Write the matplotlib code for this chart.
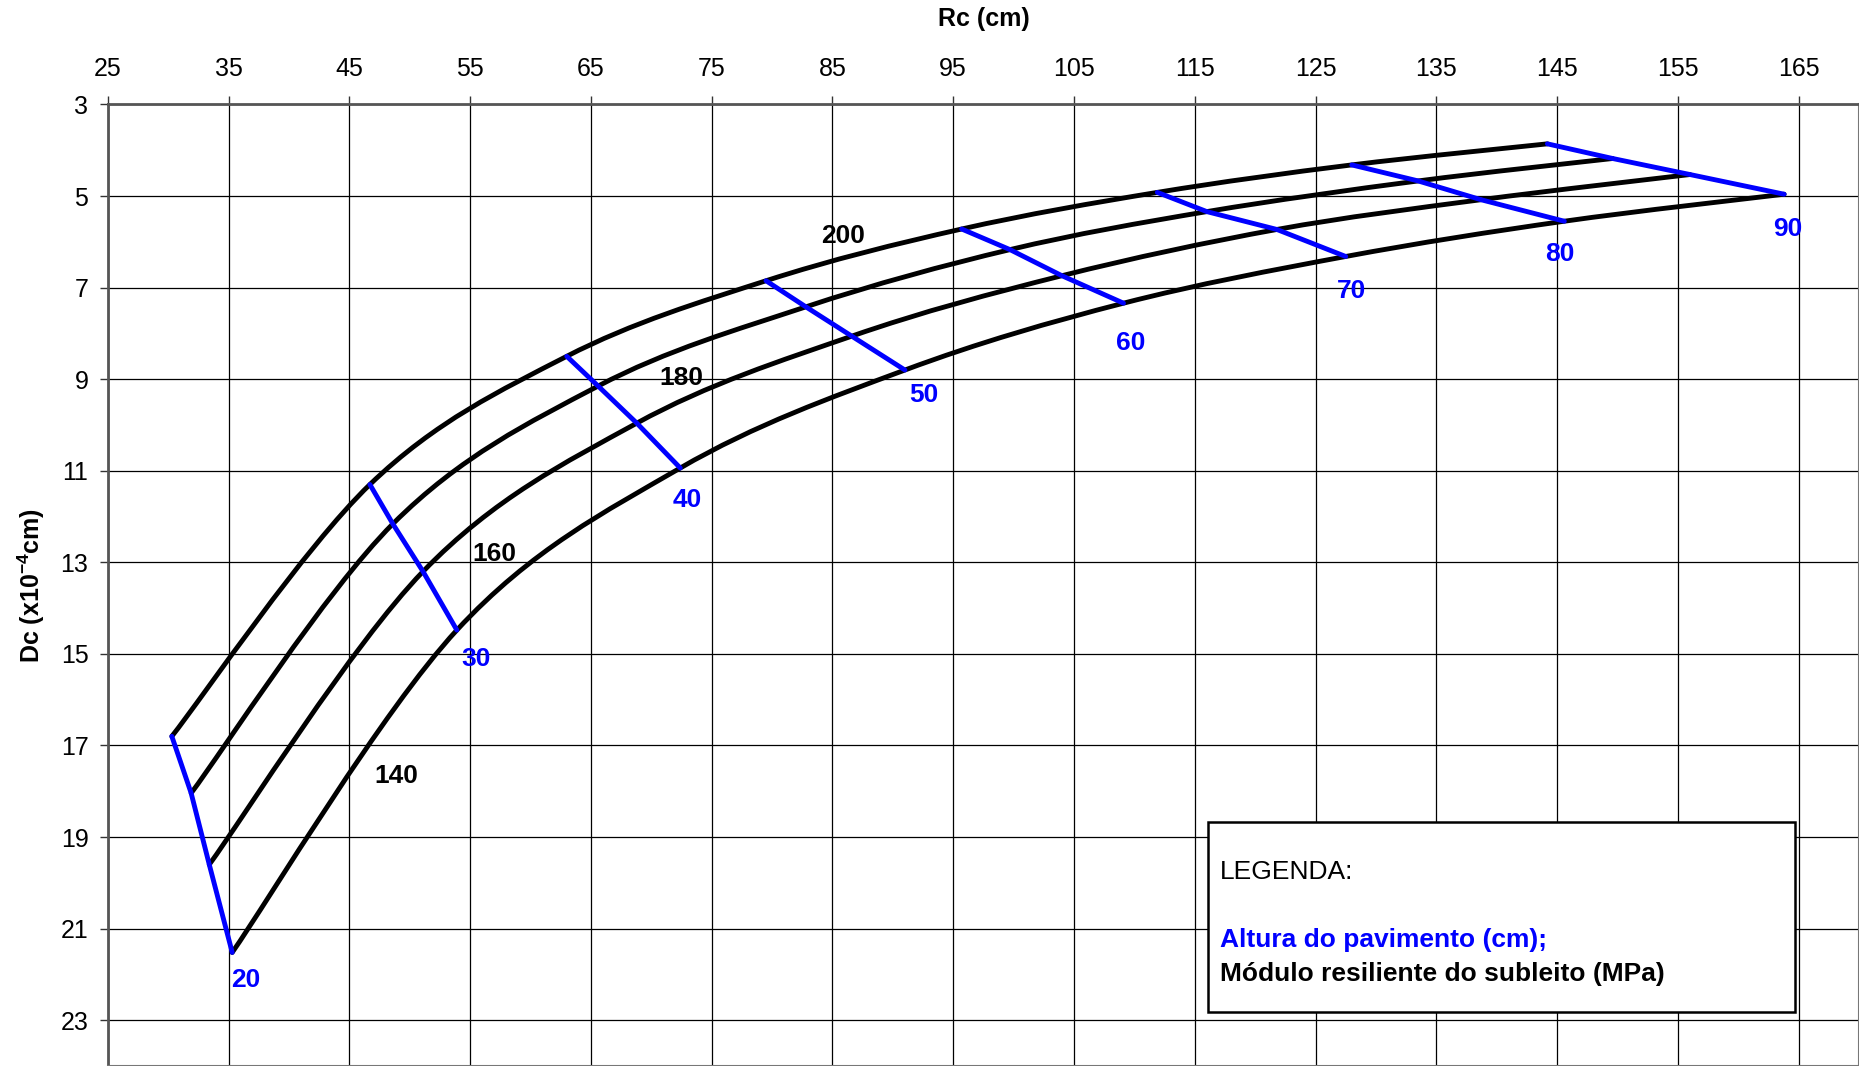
import numpy as np
import matplotlib.pyplot as plt
from matplotlib.path import Path
from matplotlib.patches import PathPatch, Rectangle

plt.rcParams['font.family'] = ['Liberation Sans', 'DejaVu Sans']
plt.rcParams['mathtext.fontset'] = 'custom'
plt.rcParams['mathtext.bf'] = 'Liberation Sans:bold'
plt.rcParams['mathtext.rm'] = 'Liberation Sans:bold'
plt.rcParams['mathtext.default'] = 'bf'

# Subgrade resilient modulus (MPa), one black curve each
modulus = [200, 180, 160, 140]
# Pavement height (cm), one blue line each
height = [20, 30, 40, 50, 60, 70, 80, 90]

# Rc (cm) for each modulus (rows) and height (columns)
rc = [
    [30.3, 46.7, 63.0, 79.5, 95.7, 111.9, 128.0, 144.2],
    [31.9, 48.6, 65.6, 82.8, 99.7, 116.0, 133.5, 149.6],
    [33.4, 51.1, 68.8, 86.6, 104.0, 121.8, 138.7, 156.0],
    [35.3, 53.9, 72.4, 91.0, 109.1, 127.5, 145.6, 163.8],
]
# Dc (x10^-4 cm)
dc = [
    [16.80, 11.30, 8.50, 6.85, 5.72, 4.92, 4.32, 3.86],
    [18.04, 12.16, 9.15, 7.42, 6.17, 5.34, 4.67, 4.18],
    [19.60, 13.20, 9.96, 8.06, 6.74, 5.73, 5.08, 4.53],
    [21.52, 14.48, 10.94, 8.80, 7.34, 6.32, 5.55, 4.96],
]

# label anchor points (data coords)
modulus_label_pos = [(85.9, 5.88), (72.5, 8.98), (57.0, 12.82), (48.9, 17.66)]
height_label_pos = [(36.4, 22.12), (55.5, 15.12), (73.0, 11.63), (92.6, 9.35),
                    (109.7, 8.2), (128.0, 7.07), (145.2, 6.26), (164.1, 5.72)]

x_ticks = list(range(25, 166, 10))
y_ticks = list(range(3, 24, 2))


def smooth_path(x, y):
    # Excel-style smoothed line: Catmull-Rom converted to cubic Bezier
    p = np.column_stack([x, y])
    ext = np.vstack([p[0], p, p[-1]])
    verts = [p[0]]
    codes = [Path.MOVETO]
    for i in range(len(p) - 1):
        p0, p1, p2, p3 = ext[i], ext[i + 1], ext[i + 2], ext[i + 3]
        c1 = p1 + (p2 - p0) / 6.0
        c2 = p2 - (p3 - p1) / 6.0
        verts += [c1, c2, p2]
        codes += [Path.CURVE4] * 3
    return Path(verts, codes)


fig = plt.figure(figsize=(18.59, 10.66), dpi=100)
ax = fig.add_axes([0.058, 0.0, 0.942, 0.902])

ax.set_xlim(25, 170)
ax.set_ylim(24, 3)
ax.xaxis.tick_top()
ax.xaxis.set_label_position('top')
ax.set_xticks(x_ticks)
ax.set_yticks(y_ticks)
ax.tick_params(axis='both', labelsize=18, length=6, width=1, color='#333333')
ax.tick_params(axis='x', pad=11)
ax.tick_params(axis='y', pad=8)
ax.grid(True, color='black', linewidth=0.9)
for s in ['left', 'top']:
    ax.spines[s].set_linewidth(2)
    ax.spines[s].set_color('#555555')
for s in ['right', 'bottom']:
    ax.spines[s].set_linewidth(1.5)
    ax.spines[s].set_color('#777777')

ax.set_xlabel('Rc (cm)', fontsize=18, fontweight='bold', labelpad=22)
ax.set_ylabel(r'Dc (x10$^{-4}$cm)', fontsize=18, fontweight='bold', labelpad=10)

rc = np.array(rc)
dc = np.array(dc)

for i, m in enumerate(modulus):
    ax.add_patch(PathPatch(smooth_path(rc[i], dc[i]), fill=False,
                           edgecolor='black', linewidth=3.5, zorder=3,
                           capstyle='round'))
    lx, ly = modulus_label_pos[i]
    ax.text(lx, ly, str(m), fontsize=19, fontweight='bold', color='black',
            ha='center', va='center', zorder=5)

for j, h in enumerate(height):
    ax.plot(rc[:, j], dc[:, j], color='#0000ff', linewidth=3.5, zorder=4,
            solid_capstyle='round')
    lx, ly = height_label_pos[j]
    ax.text(lx, ly, str(h), fontsize=19, fontweight='bold', color='#0000ff',
            ha='center', va='center', zorder=5)

# legend box
ax.add_patch(Rectangle((116.1, 18.67), 48.6, 4.15, facecolor='white',
                       edgecolor='black', linewidth=1.8, zorder=6))
ax.text(117.1, 19.76, 'LEGENDA:', fontsize=19, color='black',
        ha='left', va='center', zorder=7)
ax.text(117.1, 21.24, 'Altura do pavimento (cm);', fontsize=19,
        fontweight='bold', color='#0000ff', ha='left', va='center', zorder=7)
ax.text(117.1, 21.99, 'Módulo resiliente do subleito (MPa)', fontsize=19,
        fontweight='bold', color='black', ha='left', va='center', zorder=7)

fig.savefig('out.png', dpi=100)
